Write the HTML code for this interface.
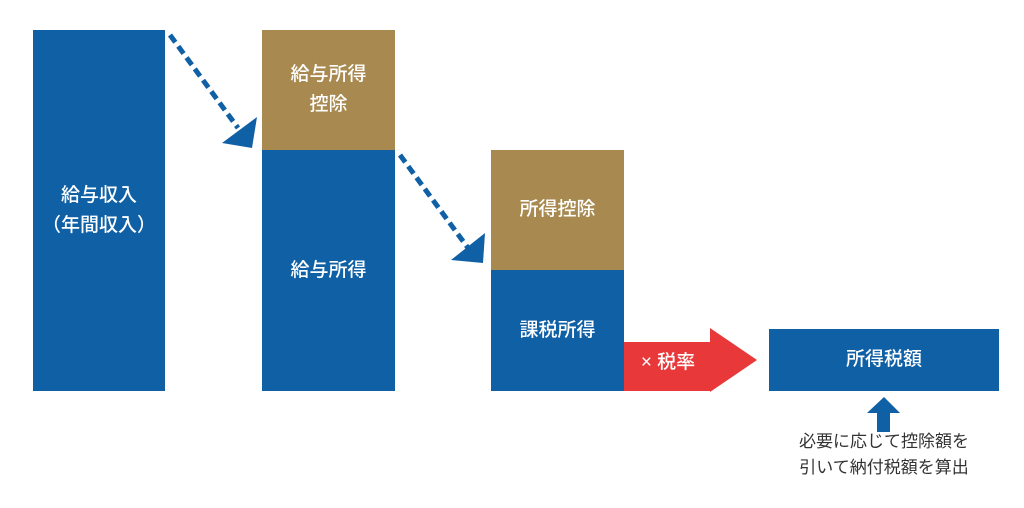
<html><head><style>
body{margin:0;width:1024px;height:508px;background:#fff;position:relative;overflow:hidden;font-family:"Liberation Sans","Noto Sans CJK JP",sans-serif}
.b{position:absolute;background:#1060a6;color:#fff;display:flex;align-items:center;justify-content:center;text-align:center;font-size:19px;line-height:30px;font-weight:500}
.t{background:#a88a50}
</style></head><body>
<div class="b" style="left:33px;top:30px;width:132px;height:361px">給与収入<br>（年間収入）</div>
<div class="b t" style="left:262px;top:30px;width:133px;height:120px">給与所得<br>控除</div>
<div class="b" style="left:262px;top:150px;width:133px;height:241px">給与所得</div>
<div class="b t" style="left:491px;top:150px;width:133px;height:120px">所得控除</div>
<div class="b" style="left:491px;top:270px;width:133px;height:121px">課税所得</div>
<div class="b" style="left:769px;top:329px;width:230px;height:62px">所得税額</div>
<svg width="1024" height="508" style="position:absolute;left:0;top:0">
<line x1="170" y1="35" x2="238" y2="128" stroke="#1060a6" stroke-width="5" stroke-dasharray="9,5"/>
<polygon points="222,143 257,117 252,148" fill="#1060a6"/>
<line x1="400" y1="155" x2="468" y2="248" stroke="#1060a6" stroke-width="5" stroke-dasharray="9,5"/>
<polygon points="451,260 485,233 483,263" fill="#1060a6"/>
<polygon points="624,342 710,342 710,328 757,360 710,392 710,391 624,391" fill="#e8383a"/>
<text x="668" y="368" font-size="19" font-weight="500" fill="#fff" text-anchor="middle" font-family="Liberation Sans,Noto Sans CJK JP,sans-serif">× 税率</text>
<polygon points="884,397 900,413 890,413 890,432 877,432 877,413 867,413" fill="#1060a6"/>
</svg>
<div style="position:absolute;left:764px;top:429px;width:240px;text-align:center;font-size:17px;line-height:26px;color:#333">必要に応じて控除額を<br>引いて納付税額を算出</div>
</body></html>
